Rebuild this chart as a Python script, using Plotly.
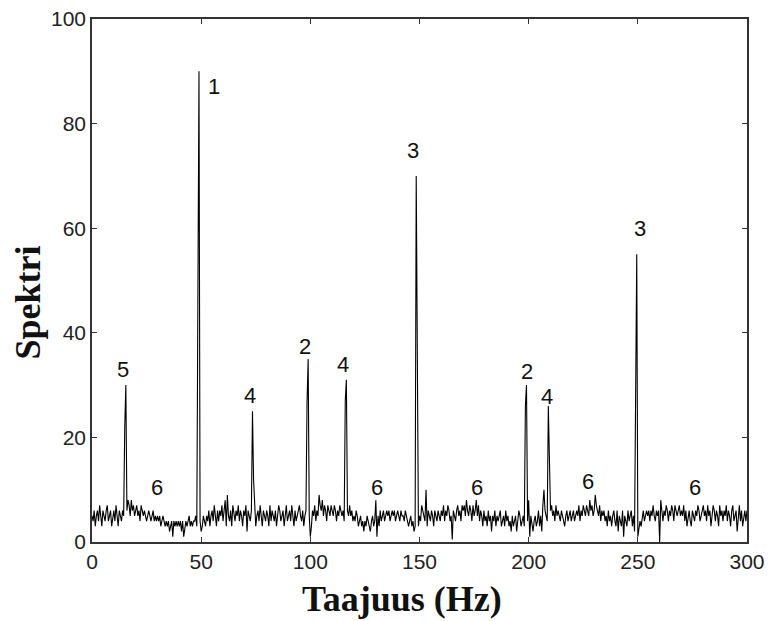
import numpy as np
import plotly.graph_objects as go

# Frequency axis (Hz), 0.5 Hz resolution: 0 ... 300
freqs = np.arange(0, 601) * 0.5

# Spectrum amplitude (20 values per 10 Hz)
spectrum = [
    5, 4, 6, 3, 5, 6, 4, 7, 5, 3, 6, 5, 4, 6, 7, 4, 5, 6, 3, 5,          # 0-9.5
    6, 4, 7, 5, 3, 6, 5, 4, 6, 5, 22, 30, 6, 8, 7, 5, 8, 6, 7, 5,        # 10-19.5
    6, 7, 5, 6, 4, 7, 6, 5, 6, 5, 4, 5, 6, 5, 4, 5, 6, 4, 5, 4,          # 20-29.5
    5, 4, 5, 3, 4, 5, 4, 3, 4, 3, 4, 2, 3, 4, 1, 4, 3, 4, 3, 4,          # 30-39.5
    3, 4, 2, 4, 1, 3, 4, 3, 4, 5, 3, 4, 3, 4, 4, 5, 3, 68, 90, 4,        # 40-49.5
    2, 3, 5, 4, 3, 5, 4, 6, 3, 5, 6, 4, 7, 5, 3, 6, 4, 6, 5, 7,          # 50-59.5
    4, 6, 8, 3, 9, 5, 4, 6, 3, 7, 5, 4, 6, 5, 7, 4, 6, 5, 3, 6,          # 60-69.5
    5, 7, 2, 6, 5, 4, 6, 25, 12, 7, 3, 5, 6, 4, 7, 5, 3, 6, 5, 4,        # 70-79.5
    6, 5, 3, 7, 4, 6, 5, 4, 6, 3, 5, 7, 6, 4, 5, 6, 3, 5, 7, 4,          # 80-89.5
    5, 6, 4, 7, 5, 3, 6, 4, 5, 6, 7, 5, 4, 6, 3, 5, 6, 27, 35, 5,        # 90-99.5
    1, 3, 6, 5, 7, 4, 6, 5, 9, 7, 6, 8, 5, 7, 6, 4, 7, 6, 5, 7,          # 100-109.5
    6, 5, 7, 6, 4, 6, 5, 7, 6, 5, 6, 4, 27, 31, 6, 5, 7, 5, 6, 4,        # 110-119.5
    5, 4, 6, 5, 3, 4, 5, 3, 4, 2, 4, 3, 5, 4, 3, 2, 4, 5, 3, 4,          # 120-129.5
    8, 1, 5, 3, 6, 4, 5, 6, 4, 5, 6, 5, 6, 4, 5, 6, 5, 6, 4, 5,          # 130-139.5
    6, 5, 4, 6, 5, 5, 4, 6, 5, 4, 3, 4, 5, 3, 4, 2, 3, 70, 20, 3,        # 140-149.5
    5, 4, 7, 6, 5, 4, 10, 3, 6, 5, 4, 6, 5, 3, 6, 5, 4, 6, 5, 4,         # 150-159.5
    6, 5, 7, 4, 6, 5, 7, 6, 4, 5, 0.5, 6, 5, 4, 6, 7, 5, 6, 4, 7,        # 160-169.5
    6, 7, 5, 8, 6, 5, 7, 6, 4, 7, 5, 6, 8, 5, 7, 4, 6, 5, 3, 6,          # 170-179.5
    4, 5, 3, 6, 4, 5, 2, 5, 4, 6, 3, 5, 4, 5, 6, 3, 4, 5, 3, 6,          # 180-189.5
    4, 5, 3, 4, 2, 5, 3, 4, 5, 2, 4, 6, 5, 3, 4, 5, 3, 26, 30, 4,        # 190-199.5
    8, 1, 5, 3, 2, 4, 5, 3, 4, 6, 3, 5, 2, 7, 10, 6, 5, 4, 26, 16,       # 200-209.5
    6, 7, 5, 6, 4, 7, 5, 6, 5, 4, 6, 5, 4, 3, 5, 6, 4, 5, 6, 4,          # 210-219.5
    5, 6, 4, 5, 6, 5, 7, 4, 6, 5, 7, 6, 5, 7, 6, 5, 8, 6, 7, 5,          # 220-229.5
    6, 9, 7, 6, 5, 7, 4, 6, 5, 6, 4, 5, 3, 6, 4, 5, 3, 5, 6, 4,          # 230-239.5
    3, 6, 2, 5, 4, 3, 6, 1, 5, 4, 3, 6, 4, 5, 6, 3, 5, 2, 29, 55,        # 240-249.5
    1, 3, 4, 3, 5, 6, 4, 5, 6, 5, 6, 4, 6, 5, 7, 5, 4, 6, 5, 6,          # 250-259.5
    0, 8, 5, 4, 6, 5, 7, 6, 4, 6, 5, 7, 6, 4, 7, 6, 5, 6, 7, 5,          # 260-269.5
    6, 5, 7, 4, 6, 3, 5, 6, 4, 3, 6, 5, 4, 6, 5, 7, 6, 4, 5, 6,          # 270-279.5
    7, 5, 6, 4, 7, 5, 6, 3, 5, 7, 6, 4, 6, 5, 3, 7, 5, 6, 4, 6,          # 280-289.5
    5, 7, 4, 6, 5, 3, 6, 7, 4, 5, 6, 2, 5, 7, 4, 6, 3, 5, 6, 4,          # 290-299.5
    6,                                                                   # 300
]

# Peak labels (text, x in Hz, y in amplitude)
label_text = ["1", "5", "6", "4", "2", "4", "6", "3", "6", "2", "4", "6", "3", "6"]
label_x = [55.8, 14.2, 29.8, 72.4, 97.6, 115.0, 130.4, 147.2, 176.2, 199.1, 208.3, 227.4, 251.0, 276.2]
label_y = [87.0, 33.0, 10.4, 28.0, 37.4, 34.0, 10.4, 74.9, 10.4, 32.6, 27.9, 11.6, 60.0, 10.5]

x_ticks = [0, 50, 100, 150, 200, 250, 300]
y_ticks = [0, 20, 40, 60, 80, 100]
x_title = "Taajuus (Hz)"
y_title = "Spektri"

fig = go.Figure()
fig.add_trace(go.Scatter(
    x=freqs, y=spectrum, mode="lines",
    line=dict(color="black", width=1.1),
    showlegend=False, hoverinfo="skip",
))

for t, xv, yv in zip(label_text, label_x, label_y):
    fig.add_annotation(x=xv, y=yv, text=t, showarrow=False,
                       font=dict(family="Liberation Sans, Arial", size=22, color="#111"),
                       xanchor="center", yanchor="middle")

fig.add_annotation(xref="paper", yref="paper", x=0.4728, y=-0.109,
                   text="<b>" + x_title + "</b>", showarrow=False,
                   xanchor="center", yanchor="middle",
                   font=dict(family="Liberation Serif, Times New Roman", size=36, color="#111"))
fig.add_annotation(xref="paper", yref="paper", x=-0.097, y=0.4587,
                   text="<b>" + y_title + "</b>", showarrow=False, textangle=-90,
                   xanchor="center", yanchor="middle",
                   font=dict(family="Liberation Serif, Times New Roman", size=36, color="#111"))

axis_common = dict(
    showline=True, linecolor="#333", linewidth=1.5, mirror="allticks",
    ticks="inside", ticklen=5, tickcolor="#333", tickwidth=1,
    showgrid=False, zeroline=False, automargin=False,
    tickfont=dict(family="Liberation Sans, Arial", size=21, color="#222"),
)

fig.update_layout(
    width=774, height=621,
    paper_bgcolor="white", plot_bgcolor="white",
    margin=dict(l=92, r=27, t=19, b=79, autoexpand=False),
    xaxis=dict(range=[0, 300], tickvals=x_ticks, ticktext=[str(v) for v in x_ticks], **axis_common),
    yaxis=dict(range=[0, 100], tickvals=y_ticks, ticktext=[str(v) for v in y_ticks], **axis_common),
)

fig.write_html("out.html", config={"displayModeBar": False},
               post_script="document.body.style.margin='0';")
